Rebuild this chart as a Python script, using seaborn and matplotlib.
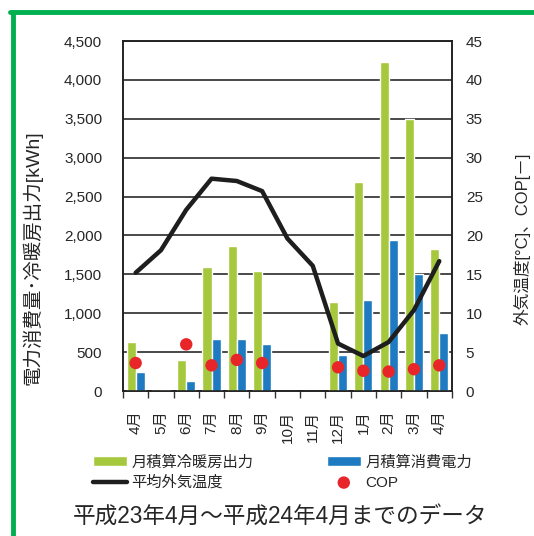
import numpy as np
import pandas as pd
import seaborn as sns
from matplotlib import pyplot as plt
from matplotlib.lines import Line2D
from matplotlib.ticker import FuncFormatter, MultipleLocator

# data
months = ["4月", "5月", "6月", "7月", "8月", "9月", "10月", "11月",
          "12月", "1月", "2月", "3月", "4月"]
heat_output = [630, 20, 405, 1590, 1870, 1545, 0, 0, 1150, 2685, 4225, 3500, 1825]
power_used = [250, 15, 125, 670, 670, 610, 0, 0, 460, 1170, 1940, 1510, 745]
outdoor_temp = [15.2, 18.1, 23.3, 27.3, 27.0, 25.7, 19.6, 16.1, 6.1, 4.5, 6.3, 10.4, 16.7]
cop = [3.6, np.nan, 6.0, 3.3, 4.0, 3.6, np.nan, np.nan, 3.05, 2.6, 2.5, 2.8, 3.3]

label_heat = "月積算冷暖房出力"
label_power = "月積算消費電力"
label_temp = "平均外気温度"
label_cop = "COP"

GREEN = "#a6c83c"
BLUE = "#1f7bc1"
RED = "#e8262a"
FRAME = "#00b050"

sns.set_style("white")
plt.rcParams["font.family"] = ["Liberation Sans", "Noto Sans CJK JP", "DejaVu Sans"]

idx = np.arange(len(months))
df = pd.DataFrame({
    "idx": np.concatenate([idx, idx]),
    "value": heat_output + power_used,
    "series": [label_heat] * len(months) + [label_power] * len(months),
})

fig = plt.figure(figsize=(5.34, 5.36), dpi=100)
ax = fig.add_axes([0.2303, 0.2705, 0.616, 0.653])

sns.barplot(data=df, x="idx", y="value", hue="series", ax=ax,
            palette={label_heat: GREEN, label_power: BLUE},
            width=0.72, saturation=1, legend=True, zorder=3)

ax.set_ylim(0, 4500)
ax.yaxis.set_major_locator(MultipleLocator(500))
ax.yaxis.set_major_formatter(FuncFormatter(lambda v, p: "{:,.0f}".format(v)))
ax.grid(axis="y", color="#2a2a2a", linewidth=1.2, zorder=0)
ax.set_axisbelow(True)
ax.set_xlim(-0.5, len(months) - 0.5)
ax.set_xticks(idx)
ax.set_xticklabels(months, rotation=90, fontsize=11)
ax.set_xticks(np.arange(len(months) + 1) - 0.5, minor=True)
ax.tick_params(axis="x", which="major", length=0, pad=14)
ax.tick_params(axis="x", which="minor", length=5, width=1, color="#333333",
               direction="out", bottom=True)
ax.tick_params(axis="y", length=0, pad=15, labelsize=11)
ax.set_xlabel("")
ax.set_ylabel("電力消費量･冷暖房出力[kWh]", fontsize=14, va="center", ha="center")
ax.yaxis.set_label_coords(-0.277, 0.38)
for s in ax.spines.values():
    s.set_color("#222222")
    s.set_linewidth(1.2)

ax2 = ax.twinx()
sns.lineplot(x=idx, y=outdoor_temp, ax=ax2, color="#1e1e1e", linewidth=3.2,
             label=label_temp, zorder=4)
sns.scatterplot(x=idx, y=cop, ax=ax2, color=RED, s=80, edgecolor="none",
                label=label_cop, zorder=5)
ax2.set_ylim(0, 45)
ax2.yaxis.set_major_locator(MultipleLocator(5))
ax2.tick_params(axis="y", length=0, pad=10, labelsize=11)
ax2.set_ylabel("外気温度[°C]、COP[－]", fontsize=12, va="center", ha="center")
ax2.yaxis.set_label_coords(1.213, 0.434)
ax2.grid(False)
for s in ax2.spines.values():
    s.set_color("#222222")
    s.set_linewidth(1.2)

h1, l1 = ax.get_legend_handles_labels()
h2, l2 = ax2.get_legend_handles_labels()
ax.get_legend().remove()
ax2.get_legend().remove()
handles = [h1[0], h2[0], h1[1], h2[1]]
labels = [l1[0], l2[0], l1[1], l2[1]]
fig.legend(handles, labels, loc="upper left", bbox_to_anchor=(0.175, 0.151),
           ncol=2, frameon=False, fontsize=11, columnspacing=4.8,
           handlelength=2.2, handletextpad=0.3, labelspacing=0.4,
           borderpad=0, borderaxespad=0)

fig.text(0.525, 0.04 - 3 / 536, "平成23年4月～平成24年4月までのデータ", fontsize=16.3,
         ha="center", va="center")

# green frame lines
fig.add_artist(Line2D([12.5 / 534, 12.5 / 534], [0, 1 - 11.5 / 536],
                      transform=fig.transFigure, color=FRAME, linewidth=3.5))
fig.add_artist(Line2D([10 / 534, 1], [1 - 11.5 / 536, 1 - 11.5 / 536],
                      transform=fig.transFigure, color=FRAME, linewidth=3.5))

fig.savefig("out.png", dpi=100)
